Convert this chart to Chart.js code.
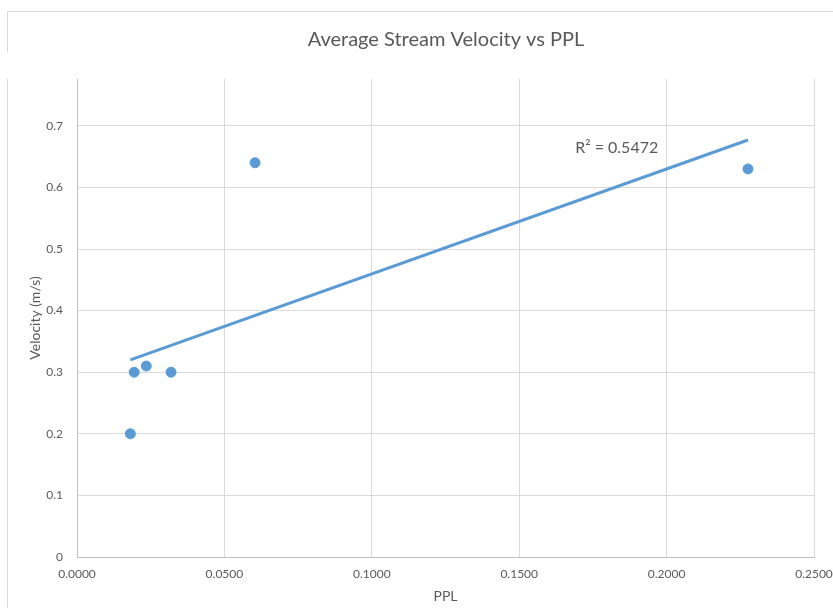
<!DOCTYPE html>
<html>
<head>
<meta charset="utf-8">
<script src="https://cdn.jsdelivr.net/npm/chart.js@4/dist/chart.umd.min.js"></script>
<style>
  html, body { margin: 0; padding: 0; background: #fff; }
  #wrap { position: relative; width: 833px; height: 608px; overflow: hidden; }
  canvas { position: absolute; left: 0; top: 0; }
  .edge { position: absolute; background: #d9d9d9; }
</style>
</head>
<body>
<div id="wrap">
  <canvas id="velocityChart" width="892" height="608"></canvas>
  <div class="edge" style="left:7px; top:11px; width:826px; height:1px;"></div>
  <div class="edge" style="left:7px; top:11px; width:1px; height:41px;"></div>
  <div class="edge" style="left:7px; top:79px; width:1px; height:529px;"></div>
</div>
<script>
// measured points
const ppl = [0.0181, 0.0194, 0.0235, 0.0319, 0.0604, 0.2276];
const velocity = [0.20, 0.30, 0.31, 0.30, 0.64, 0.63];

// linear trendline ends
const trendPpl = [0.0181, 0.2276];
const trendVelocity = [0.320, 0.677];
const rSquaredLabel = 'R² = 0.5472';

const FONT = 'Lato, "Open Sans", sans-serif';
const GREY_TEXT = '#595959';
const BLUE = '#5B9BD5';

// draws the R² text at a spot given in data units
const rSquaredPlugin = {
    id: 'rSquared',
    afterDatasetsDraw(chart) {
        const { ctx, scales } = chart;
        const x = scales.x.getPixelForValue(0.1690);
        const y = scales.y.getPixelForValue(0.664);
        ctx.save();
        ctx.font = '16px ' + FONT;
        ctx.fillStyle = GREY_TEXT;
        ctx.textAlign = 'left';
        ctx.textBaseline = 'middle';
        ctx.fillText(rSquaredLabel, x, y);
        ctx.restore();
    }
};

const ctx = document.getElementById('velocityChart').getContext('2d');
new Chart(ctx, {
    type: 'scatter',
    data: {
        datasets: [
            {
                label: 'Linear (Velocity)',
                type: 'line',
                data: trendPpl.map((x, i) => ({ x: x, y: trendVelocity[i] })),
                borderColor: BLUE,
                borderWidth: 3,
                pointRadius: 0,
                fill: false,
                order: 0
            },
            {
                label: 'Velocity',
                data: ppl.map((x, i) => ({ x: x, y: velocity[i] })),
                backgroundColor: BLUE,
                borderColor: BLUE,
                pointRadius: 5,
                pointHoverRadius: 5,
                order: 1
            }
        ]
    },
    options: {
        responsive: false,
        animation: false,
        layout: { padding: 0 },
        plugins: {
            legend: { display: false },
            tooltip: { enabled: false },
            title: {
                display: true,
                text: 'Average Stream Velocity vs PPL',
                color: GREY_TEXT,
                font: { family: FONT, size: 20, weight: 'normal' },
                padding: { top: 28, bottom: 27 }
            }
        },
        scales: {
            x: {
                type: 'linear',
                min: 0,
                max: 0.25,
                ticks: {
                    stepSize: 0.05,
                    color: GREY_TEXT,
                    font: { family: FONT, size: 12 },
                    padding: 10,
                    maxRotation: 0,
                    callback: v => v.toFixed(4)
                },
                grid: { color: '#d9d9d9', drawTicks: false },
                border: { color: '#bfbfbf', width: 1 },
                title: {
                    display: true,
                    text: 'PPL',
                    color: GREY_TEXT,
                    font: { family: FONT, size: 14 },
                    padding: { top: 0, bottom: 3 }
                },
                afterFit: scale => { scale.height = 51; }
            },
            y: {
                type: 'linear',
                min: 0,
                max: 0.776,
                ticks: {
                    stepSize: 0.1,
                    color: GREY_TEXT,
                    font: { family: FONT, size: 12 },
                    padding: 14,
                    callback: v => (v === 0 ? '0' : v.toFixed(1))
                },
                afterBuildTicks: scale => {
                    scale.ticks = scale.ticks.filter(t => Math.abs(t.value * 10 - Math.round(t.value * 10)) < 1e-6);
                },
                grid: { color: '#d9d9d9', drawTicks: false },
                border: { color: '#bfbfbf', width: 1 },
                title: {
                    display: true,
                    text: 'Velocity (m/s)',
                    color: GREY_TEXT,
                    font: { family: FONT, size: 14 },
                    padding: { top: 27, bottom: 0 }
                },
                afterFit: scale => { scale.width = 77; }
            },
            // empty right-hand axis, only reserves room so the plot ends where the original does
            spacer: {
                type: 'linear',
                position: 'right',
                display: true,
                min: 0,
                max: 1,
                ticks: { display: false },
                grid: { display: false, drawTicks: false },
                border: { display: false },
                afterFit: scale => { scale.width = 78; }
            }
        }
    },
    plugins: [rSquaredPlugin]
});
</script>
</body>
</html>
